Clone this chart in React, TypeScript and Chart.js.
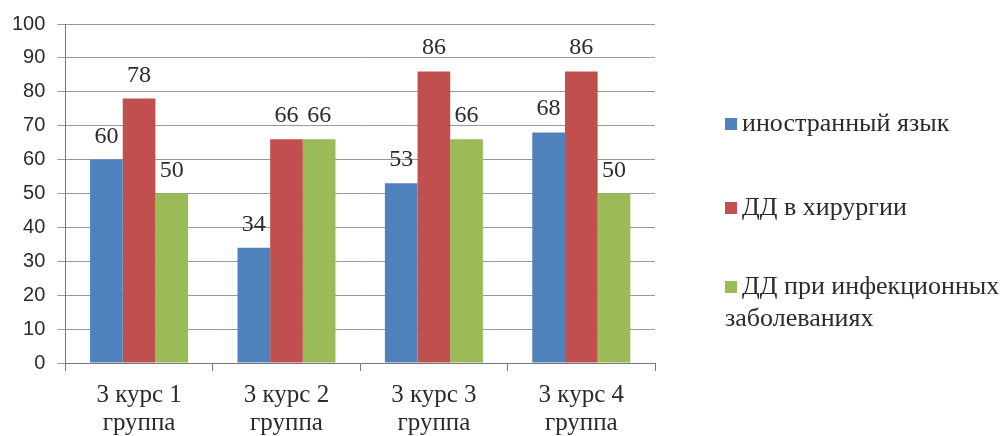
import React, { useEffect, useRef } from "react";
import { Chart, registerables } from "chart.js";

Chart.register(...registerables);

const categories: string[][] = [
  ["3 курс 1", "группа"],
  ["3 курс 2", "группа"],
  ["3 курс 3", "группа"],
  ["3 курс 4", "группа"],
];
const seriesNames = ["иностранный язык", "ДД в хирургии", "ДД при инфекционных заболеваниях"];
const foreignLanguage = [60, 34, 53, 68];
const surgery = [78, 66, 86, 86];
const infectious = [50, 66, 66, 50];
const yTickValues = [0, 10, 20, 30, 40, 50, 60, 70, 80, 90, 100];
const seriesColors = ["#4F81BD", "#C0504D", "#9BBB59"];

const SERIF = "'Liberation Serif', 'DejaVu Serif', serif";
const SANS = "'Liberation Sans', Arial, sans-serif";
const TEXT = "#2b2b2b";

const valueLabels = {
  id: "valueLabels",
  afterDatasetsDraw(chart: any) {
    const ctx = chart.ctx;
    ctx.save();
    ctx.font = `24px ${SERIF}`;
    ctx.fillStyle = TEXT;
    ctx.textAlign = "center";
    ctx.textBaseline = "alphabetic";
    chart.data.datasets.forEach((ds: any, i: number) => {
      const meta = chart.getDatasetMeta(i);
      meta.data.forEach((bar: any, j: number) => {
        ctx.fillText(String(ds.data[j]), bar.x, bar.y - 17);
      });
    });
    ctx.restore();
  },
};

function wrap(ctx: CanvasRenderingContext2D, text: string, maxW: number): string[] {
  const words = text.split(" ");
  const lines: string[] = [];
  let cur = "";
  for (const w of words) {
    const t = cur ? cur + " " + w : w;
    if (ctx.measureText(t).width > maxW && cur) {
      lines.push(cur);
      cur = w;
    } else cur = t;
  }
  if (cur) lines.push(cur);
  return lines;
}

const sideLegend = {
  id: "sideLegend",
  afterDraw(chart: any) {
    const ctx = chart.ctx;
    ctx.save();
    ctx.font = `26px ${SERIF}`;
    ctx.textBaseline = "middle";
    const left = chart.chartArea.right + 70;
    const rowYs = [124, 208, 287];
    chart.data.datasets.forEach((ds: any, i: number) => {
      const y = rowYs[i];
      ctx.fillStyle = ds.backgroundColor;
      ctx.fillRect(left, y - 6, 12, 12);
      ctx.fillStyle = TEXT;
      const lines = wrap(ctx, ds.label, 275);
      lines.forEach((ln, k) => {
        const x = k === 0 ? left + 17 : left;
        ctx.fillText(ln, x, y + k * 32);
      });
    });
    ctx.restore();
  },
};

export default function App() {
  const ref = useRef<HTMLCanvasElement>(null);
  useEffect(() => {
    if (!ref.current) return;
    const chart = new Chart(ref.current, {
      type: "bar",
      data: {
        labels: categories,
        datasets: [foreignLanguage, surgery, infectious].map((d, i) => ({
          label: seriesNames[i],
          data: d,
          backgroundColor: seriesColors[i],
          borderWidth: 0,
          categoryPercentage: 0.665,
          barPercentage: 1,
        })),
      },
      options: {
        animation: false,
        responsive: true,
        maintainAspectRatio: false,
        layout: { padding: { left: 0, right: 350, top: 14, bottom: -11 } },
        plugins: {
          legend: { display: false },
          tooltip: { enabled: false },
        },
        scales: {
          x: {
            grid: { drawOnChartArea: false, drawTicks: true, tickLength: 8, color: "#777" },
            border: { color: "#777", width: 1 },
            ticks: { color: TEXT, font: { family: SERIF, size: 25, lineHeight: 1.12 }, padding: 10, maxRotation: 0 },
          },
          y: {
            min: 0,
            max: 100,
            afterBuildTicks: (axis: any) => {
              axis.ticks = yTickValues.map((v) => ({ value: v }));
            },
            grid: { color: "#999", tickLength: 8 },
            border: { color: "#777", width: 1 },
            ticks: { color: TEXT, font: { family: SANS, size: 20 }, padding: 12 },
          },
        },
      },
      plugins: [valueLabels, sideLegend],
    });
    return () => chart.destroy();
  }, []);
  return (
    <div style={{ position: "fixed", left: 0, top: 0, width: 1005, height: 436, background: "#ffffff" }}>
      <canvas ref={ref} />
    </div>
  );
}
